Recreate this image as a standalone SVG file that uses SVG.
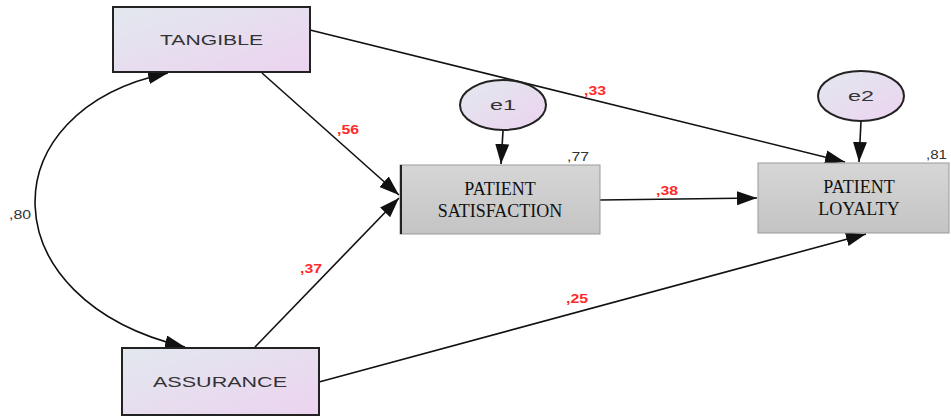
<svg xmlns="http://www.w3.org/2000/svg" width="951" height="417" viewBox="0 0 951 417">
<defs>
<linearGradient id="lav" x1="0" y1="0" x2="1" y2="1">
<stop offset="0" stop-color="#e2e8ee"/>
<stop offset="1" stop-color="#ecd3f0"/>
</linearGradient>
<linearGradient id="gry" x1="0" y1="0" x2="0" y2="1">
<stop offset="0" stop-color="#d6d6d6"/>
<stop offset="1" stop-color="#c4c4c4"/>
</linearGradient>
<marker id="ahb" viewBox="0 0 20 14" refX="20" refY="7" markerWidth="20" markerHeight="14" markerUnits="userSpaceOnUse" orient="auto-start-reverse">
<path d="M0,0 L20,7 L0,14 z" fill="#111"/>
</marker>
</defs>
<style>
.lav{fill:url(#lav);stroke:#222;stroke-width:2}
.gry{fill:url(#gry);stroke:#999;stroke-width:1}
.sans{font-family:"Liberation Sans",Arial,sans-serif;font-size:15px;fill:#333}
.serif{font-family:"Liberation Serif","Times New Roman",serif;font-size:18px;fill:#111}
.red{font-family:"Liberation Sans",Arial,sans-serif;font-size:12px;fill:#ff2a2a;font-weight:bold}
.blk{font-family:"Liberation Sans",Arial,sans-serif;font-size:12px;fill:#333}
.c{fill:none;stroke:#111;stroke-width:1.6}
</style>
<g id="connectors">
<path class="c" d="M310,30 L845,162" marker-end="url(#ahb)"/>
<path class="c" d="M262,73 L399,195" marker-end="url(#ahb)"/>
<path class="c" d="M255,347 L399,198" marker-end="url(#ahb)"/>
<path class="c" d="M319,382 L866,234" marker-end="url(#ahb)"/>
<path class="c" d="M600,200 L757,198" marker-end="url(#ahb)"/>
<path class="c" d="M503,131 L501,164" marker-end="url(#ahb)"/>
<path class="c" d="M861,121 L859,162" marker-end="url(#ahb)"/>
<path class="c" d="M168,73 C-12,110 -12,300 185,347" marker-start="url(#ahb)" marker-end="url(#ahb)"/>
<text class="blk" x="9" y="219" textLength="22" lengthAdjust="spacingAndGlyphs">,80</text>
<text class="red" x="337" y="134" textLength="22" lengthAdjust="spacingAndGlyphs">,56</text>
<text class="red" x="584" y="95" textLength="22" lengthAdjust="spacingAndGlyphs">,33</text>
<text class="red" x="300" y="273" textLength="22" lengthAdjust="spacingAndGlyphs">,37</text>
<text class="red" x="656" y="195" textLength="22" lengthAdjust="spacingAndGlyphs">,38</text>
<text class="red" x="566" y="303" textLength="22" lengthAdjust="spacingAndGlyphs">,25</text>
</g>
<g id="tangible">
<rect class="lav" x="113" y="7" width="197" height="65"/>
<text class="sans" x="160" y="45" textLength="103" lengthAdjust="spacingAndGlyphs">TANGIBLE</text>
</g>
<g id="assurance">
<rect class="lav" x="122" y="348" width="197" height="67"/>
<text class="sans" x="153" y="387" textLength="134" lengthAdjust="spacingAndGlyphs">ASSURANCE</text>
</g>
<g id="e1">
<ellipse class="lav" cx="503" cy="105" rx="43" ry="25"/>
<text class="sans" x="490" y="110" textLength="26" lengthAdjust="spacingAndGlyphs">e1</text>
</g>
<g id="e2">
<ellipse class="lav" cx="861" cy="96" rx="43" ry="25"/>
<text class="sans" x="848" y="101" textLength="26" lengthAdjust="spacingAndGlyphs">e2</text>
</g>
<g id="satisfaction">
<rect class="gry" x="400" y="165" width="200" height="69"/>
<line x1="401" y1="165" x2="401" y2="234" stroke="#222" stroke-width="2"/>
<text class="serif" x="500" y="195" text-anchor="middle">PATIENT</text>
<text class="serif" x="500" y="217" text-anchor="middle">SATISFACTION</text>
<text class="blk" x="567" y="161" textLength="22" lengthAdjust="spacingAndGlyphs">,77</text>
</g>
<g id="loyalty">
<rect class="gry" x="758" y="163" width="191" height="70"/>
<text class="serif" x="859" y="193" text-anchor="middle">PATIENT</text>
<text class="serif" x="859" y="215" text-anchor="middle">LOYALTY</text>
<text class="blk" x="926" y="159" textLength="21" lengthAdjust="spacingAndGlyphs">,81</text>
</g>
</svg>
